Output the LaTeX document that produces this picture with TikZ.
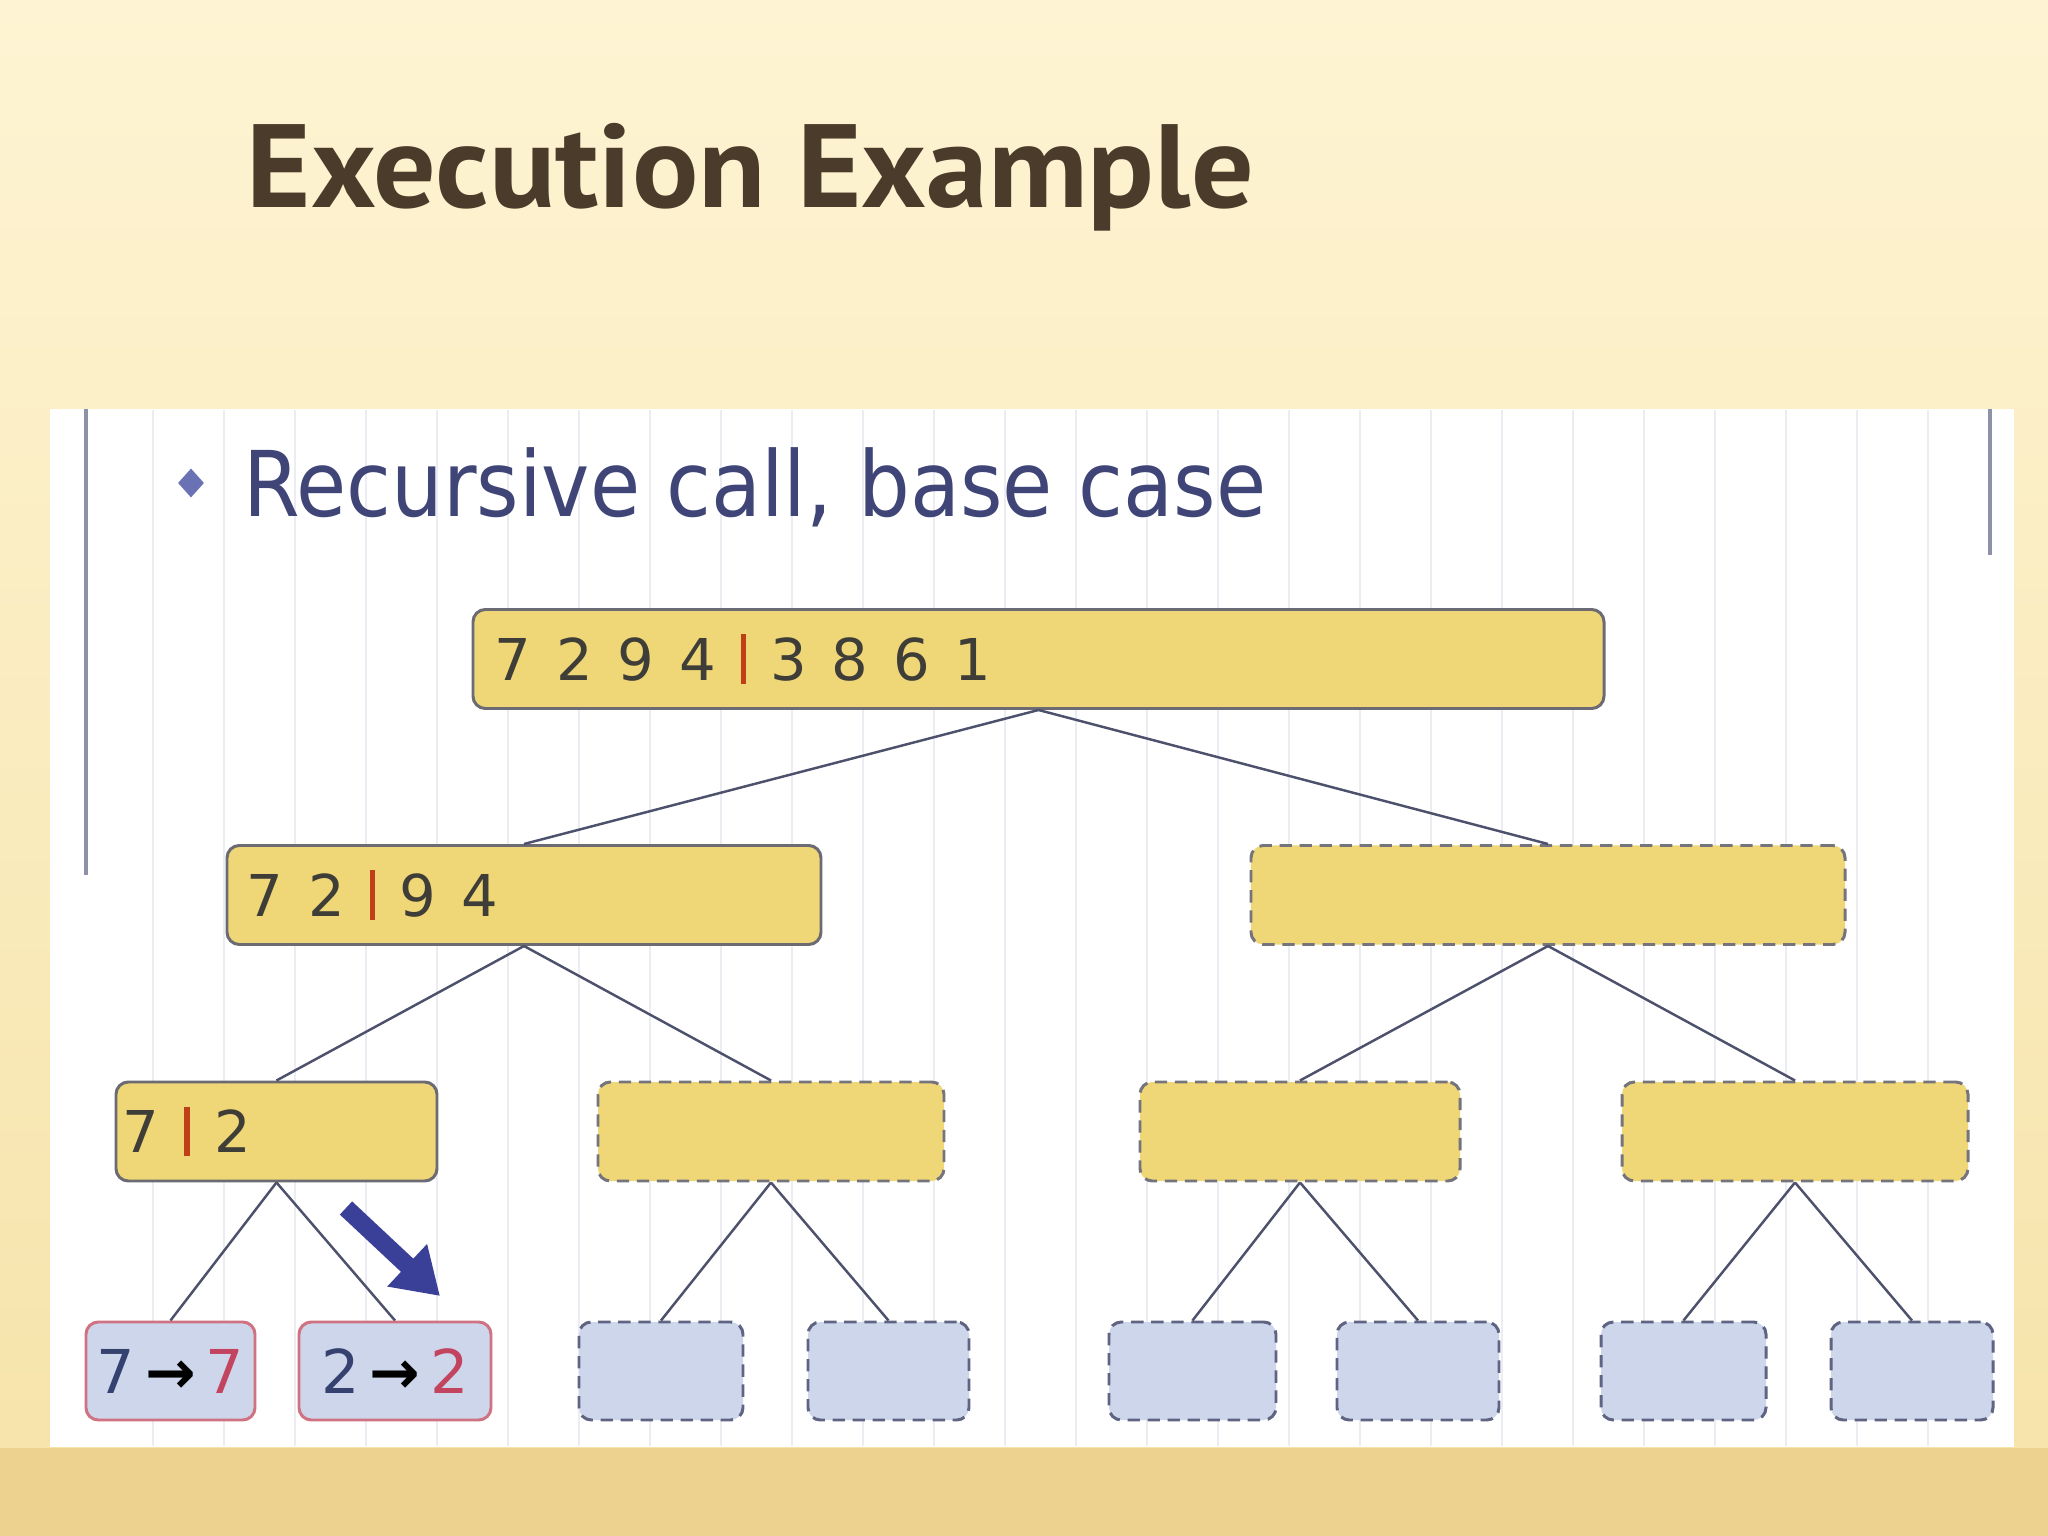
\documentclass[tikz,border=0pt]{standalone}
\usepackage{fontspec}
\usetikzlibrary{arrows.meta, positioning, shapes.geometric}
\setmainfont{DejaVu Sans}
\newfontfamily\titlefont{PT Sans}
\newfontfamily\boxfont{DejaVu Sans}[WordSpace=1.35]
\definecolor{cbgtop}{HTML}{FEF4D3}
\definecolor{cbgbot}{HTML}{F6E3A9}
\definecolor{cband}{HTML}{ECD28E}
\definecolor{ctitle}{HTML}{4A3B2B}
\definecolor{csub}{HTML}{3F4576}
\definecolor{cbullet}{HTML}{6A72B5}
\definecolor{cframe}{HTML}{8E91AA}
\definecolor{cgrid}{HTML}{ECEDF3}
\definecolor{cyellow}{HTML}{EFD676}
\definecolor{cboxline}{HTML}{6C6A72}
\definecolor{cdash}{HTML}{75737C}
\definecolor{cleaf}{HTML}{CED6EC}
\definecolor{cleafline}{HTML}{5E6482}
\definecolor{cdone}{HTML}{CF7382}
\definecolor{cedge}{HTML}{4D516C}
\definecolor{cdigit}{HTML}{3F3D38}
\definecolor{ccut}{HTML}{BE3F18}
\definecolor{cin}{HTML}{35416F}
\definecolor{cout}{HTML}{C2445F}
\definecolor{chint}{HTML}{3A3F98}
\newcommand\splitbar{{\color{ccut}\rule[-1pt]{1.5pt}{14pt}}}
\tikzset{
  every picture/.style={line width=0.8pt},
  title/.style={font=\titlefont\bfseries\fontsize{33.7}{40}\selectfont, text=ctitle, inner sep=0pt, xscale=1.045, transform shape},
  subtitle/.style={font=\fontsize{25.8}{30}\selectfont, text=csub, inner sep=0pt, xscale=0.9, transform shape},
  box/.style={fill=cyellow, draw=cboxline, line width=0.85pt, rounded corners=3.5pt, minimum height=0.99cm, inner sep=0pt},
  todo/.style={box, draw=cdash, dash pattern=on 3.5pt off 2.2pt},
  leaf/.style={fill=cleaf, draw=cleafline, line width=0.85pt, rounded corners=3.5pt, minimum height=0.98cm, inner sep=0pt, dash pattern=on 3.5pt off 2.2pt},
  done/.style={leaf, draw=cdone, solid, font=\fontsize{17.2}{20}\selectfont},
  digits/.style={font=\boxfont\fontsize{16.4}{20}\selectfont, text=cdigit, inner sep=0pt},
  edge/.style={draw=cedge, line width=0.7pt},
  grid/.style={draw=cgrid, line width=0.6pt},
  hint/.style={-{Triangle[length=0.45cm, width=0.55cm]}, draw=chint, line width=0.18cm},
}

\begin{document}
\begin{tikzpicture}
  \useasboundingbox (0,0) rectangle (20.48,-15.36);
  % slide background
  \shade[top color=cbgtop, bottom color=cbgbot] (0,0) rectangle (20.48,-15.36);
  \fill[cband] (0,-14.48) rectangle (20.48,-15.36);
  \fill[white] (0.50,-4.09) rectangle (20.14,-14.47);
  \foreach \gx in {1.53,2.24,...,19.3}
    \draw[grid] (\gx,-4.10) -- (\gx,-14.46);
  \draw[cframe, line width=1pt] (0.86,-4.09) -- (0.86,-8.75);
  \draw[cframe, line width=1pt] (19.90,-4.09) -- (19.90,-5.55);

  \node[title, anchor=base west] (head) at (2.45,-2.08) {Execution Example};
  \node[diamond, fill=cbullet, minimum width=0.27cm, minimum height=0.30cm, inner sep=0pt] (bullet) at (1.91,-4.83) {};
  \node[subtitle, anchor=base west] (sub) at (2.42,-5.17) {Recursive call, base case};

  % merge-sort tree
  \node[box, minimum width=11.31cm] (root) at (10.385,-6.59) {};
  \node[digits, right=0.22cm of root.west] (rootnum) {7 2 9 4 \splitbar{} 3 8 6 1};
  \node[box, minimum width=5.94cm] (l) at (5.24,-8.95) {};
  \node[digits, right=0.20cm of l.west] (lnum) {7 2 \splitbar{} 9 4};
  \node[todo, minimum width=5.94cm] (r) at (15.48,-8.95) {};

  \node[box, minimum width=3.21cm] (ll) at (2.765,-11.315) {};
  \node[digits, right=0.07cm of ll.west] (llnum) {7 \splitbar{} 2};
  \node[todo, minimum width=3.46cm] (lr) at (7.71,-11.315) {};
  \node[todo, minimum width=3.20cm] (rl) at (13.00,-11.315) {};
  \node[todo, minimum width=3.46cm] (rr) at (17.95,-11.315) {};

  \node[done, minimum width=1.69cm] (lll) at (1.705,-13.71) {\textcolor{cin}{7}\,\textbf{→}\,\textcolor{cout}{7}};
  \node[done, minimum width=1.92cm] (llr) at (3.95,-13.71) {\textcolor{cin}{2}\,\textbf{→}\,\textcolor{cout}{2}};
  \node[leaf, minimum width=1.64cm] (lrl) at (6.61,-13.71) {};
  \node[leaf, minimum width=1.61cm] (lrr) at (8.885,-13.71) {};
  \node[leaf, minimum width=1.67cm] (rll) at (11.925,-13.71) {};
  \node[leaf, minimum width=1.62cm] (rlr) at (14.18,-13.71) {};
  \node[leaf, minimum width=1.65cm] (rrl) at (16.835,-13.71) {};
  \node[leaf, minimum width=1.62cm] (rrr) at (19.12,-13.71) {};

  \draw[edge] (root.south) -- (l.north);
  \draw[edge] (root.south) -- (r.north);
  \draw[edge] (l.south) -- (ll.north);
  \draw[edge] (l.south) -- (lr.north);
  \draw[edge] (r.south) -- (rl.north);
  \draw[edge] (r.south) -- (rr.north);
  \draw[edge] (ll.south) -- (lll.north);
  \draw[edge] (ll.south) -- (llr.north);
  \draw[edge] (lr.south) -- (lrl.north);
  \draw[edge] (lr.south) -- (lrr.north);
  \draw[edge] (rl.south) -- (rll.north);
  \draw[edge] (rl.south) -- (rlr.north);
  \draw[edge] (rr.south) -- (rrl.north);
  \draw[edge] (rr.south) -- (rrr.north);

  \coordinate (hintfrom) at (3.46,-12.08);
  \coordinate (hintto) at (4.40,-12.96);
  \draw[hint] (hintfrom) -- (hintto);
\end{tikzpicture}
\end{document}
